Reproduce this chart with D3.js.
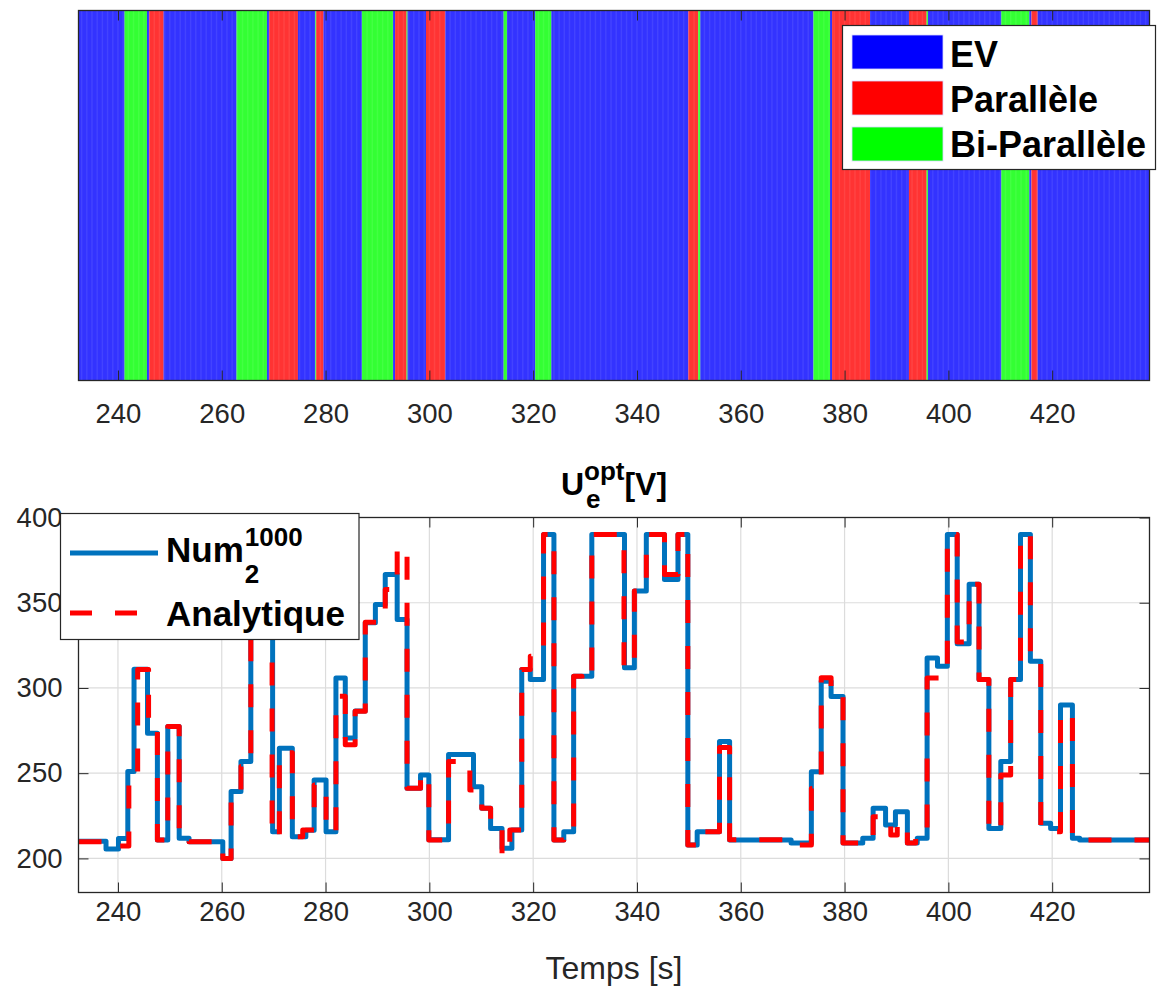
<!DOCTYPE html>
<html><head><meta charset="utf-8">
<script src="https://cdn.jsdelivr.net/npm/d3@7"></script>
<style>body{margin:0;background:#fff;} svg{display:block;font-family:"Liberation Sans",Arial,Helvetica,sans-serif;}</style>
</head><body><svg id="c" width="1157" height="992"></svg>
<script>
// ---------- data ----------
const modeNames = ["EV", "Parallèle", "Bi-Parallèle"];
const modeColors = ["#0000ff", "#ff0000", "#00ff00"];
// mode segments (start time, mode index: 0 EV, 1 Parallèle, 2 Bi-Parallèle)
const segStart = [232.4, 241.27, 245.59, 246.03, 248.79, 262.85, 268.71, 269.15, 274.68, 278.02, 278.2, 279.6, 287.0, 292.99, 293.4, 295.6, 295.8, 299.35, 303.07, 314.3, 314.95, 320.4, 323.5, 349.9, 351.8, 352.2, 374.0, 377.2, 377.6, 384.9, 392.4, 395.8, 396.07, 410.2, 415.6, 416.0, 417.2];
const segMode  = [0, 2, 0, 1, 0, 2, 0, 1, 0, 2, 1, 0, 2, 0, 1, 2, 0, 1, 0, 2, 0, 2, 0, 1, 2, 0, 2, 0, 1, 0, 1, 2, 0, 2, 0, 1, 0];
const tMin = 232.4, tMax = 438.75;

// U_e^opt step series (time of step, value after step)
const numT = [232.4, 237.7, 240.1, 241.9, 243.1, 245.7, 247.6, 249.6, 251.8, 253.7, 260.2, 261.8, 263.7, 265.6, 269.8, 271.1, 273.6, 276.2, 277.8, 280.1, 282.0, 283.8, 285.7, 287.65, 289.6, 291.5, 293.8, 295.7, 298.3, 299.9, 303.7, 308.5, 310.1, 311.8, 314.0, 315.9, 317.8, 319.45, 322.0, 324.0, 325.9, 327.8, 331.3, 337.6, 339.5, 341.8, 345.3, 347.9, 349.8, 351.6, 355.9, 357.85, 369.7, 373.6, 375.5, 377.4, 379.7, 383.5, 385.5, 387.9, 389.8, 392.1, 394.0, 395.9, 397.9, 399.8, 401.7, 404.0, 405.9, 407.8, 410.1, 412.0, 413.9, 415.8, 417.8, 419.7, 421.6, 423.9, 425.3];
const numV = [210, 205.5, 211.7, 251, 311, 273.5, 210.8, 277.4, 211.8, 209.8, 200, 239.2, 256.8, 390, 215.7, 264.7, 212.7, 216.5, 246, 215.7, 305.9, 270.6, 286.5, 338.2, 349, 366.6, 340.2, 241.2, 249, 211, 261, 242, 229.4, 217.6, 205.9, 216.7, 310.8, 305, 390, 210.8, 215.7, 306.9, 390, 311.8, 356.9, 390, 363.6, 390, 207.8, 215.7, 268.6, 210.8, 209, 250.8, 304, 295, 209, 211.8, 229.4, 219.6, 227.4, 209, 211.8, 317.6, 312.7, 390, 326, 360.8, 304.9, 217.6, 256.8, 304.9, 390, 315.6, 220.6, 217.6, 290, 211.8, 210.8];
const anaT = [232.4, 240.1, 242.1, 243.8, 245.9, 247.6, 249.6, 251.8, 253.7, 260.2, 261.8, 263.7, 265.6, 269.7, 271.1, 273.6, 275.6, 277.8, 280.1, 282.0, 283.8, 285.7, 287.65, 291.5, 293.8, 295.7, 298.3, 299.9, 303.7, 307.8, 310.1, 311.8, 314.0, 315.5, 317.8, 319.45, 322.0, 324.0, 325.9, 327.8, 329.4, 331.3, 337.5, 339.5, 341.8, 345.3, 347.9, 349.8, 351.6, 355.9, 357.85, 371.3, 373.6, 375.5, 377.4, 379.7, 383.0, 385.5, 388.9, 390.15, 392.1, 393.7, 395.9, 399.8, 401.7, 404.0, 405.9, 407.8, 410.1, 412.0, 413.9, 415.8, 417.8, 421.6, 423.9, 425.3];
const anaV = [209.8, 207.3, 248, 310.8, 274.5, 210.8, 277.4, 211.8, 209.8, 200, 239.2, 253.9, 390, 212.7, 262, 212.7, 216.7, 243.1, 215.7, 295.1, 266.7, 286.3, 338.5, 357.8, 382.4, 241.2, 249, 210.8, 256.8, 240.2, 229.4, 217.6, 201.9, 216.7, 310.8, 318.6, 390, 210.8, 215.7, 306.9, 304, 390, 311.8, 356.9, 390, 366.6, 390, 207.8, 215.7, 265, 211, 207.8, 241, 306, 295, 209, 211.8, 224.5, 213.7, 220.6, 209, 212.7, 305.9, 390, 327, 360.8, 304.9, 216.7, 249, 304.9, 390, 320.5, 215.7, 285, 211.8, 210.8];

const xTicks = [240, 260, 280, 300, 320, 340, 360, 380, 400, 420];
const yTicks = [200, 250, 300, 350, 400];
const seriesNames = ["Num", "Analytique"];

// ---------- layout ----------
const L = 78.5, R = 1149.5;
const top1 = 10.5, bot1 = 380.5;
const top2 = 517.5, bot2 = 892.5;
const axisCol = "#262626";
const tickFont = 27.5;

const svg = d3.select("#c");
const x = d3.scaleLinear().domain([tMin, tMax]).range([L, R]);
const y = d3.scaleLinear().domain([180, 400]).range([bot2, top2]);

// ===== top chart: mode stripes =====
const gTop = svg.append("g");
const segs = segStart.map((s, i) => ({s, e: i < segStart.length - 1 ? segStart[i + 1] : tMax, m: segMode[i]}));
gTop.selectAll("rect.seg").data(segs).join("rect")
  .attr("x", d => x(d.s)).attr("y", top1)
  .attr("width", d => x(d.e) - x(d.s)).attr("height", bot1 - top1)
  .attr("fill", d => modeColors[d.m]).attr("fill-opacity", 0.8);
// faint bar-edge texture
gTop.selectAll("line.tex").data(d3.range(Math.ceil(tMin), tMax, 1)).join("line")
  .attr("x1", d => x(d)).attr("x2", d => x(d)).attr("y1", top1).attr("y2", bot1)
  .attr("stroke", "#ffffff").attr("stroke-opacity", 0.08).attr("stroke-width", 1.5);

function styleAxis(g, labels) {
  g.select(".domain").remove();
  g.selectAll(".tick line").attr("stroke", axisCol).attr("stroke-width", 1);
  g.selectAll(".tick text").attr("fill", axisCol).attr("font-size", tickFont)
    .attr("font-family", '"Liberation Sans",Arial,sans-serif');
  if (!labels) g.selectAll(".tick text").remove();
}
// bottom ticks (inside) with labels
svg.append("g").attr("transform", `translate(0,${bot1})`)
  .call(d3.axisBottom(x).tickValues(xTicks).tickSizeInner(-10).tickSizeOuter(0).tickPadding(23))
  .call(g => styleAxis(g, true));
svg.append("g").attr("transform", `translate(0,${top1})`)
  .call(d3.axisTop(x).tickValues(xTicks).tickSizeInner(-10).tickSizeOuter(0))
  .call(g => styleAxis(g, false));
svg.append("rect").attr("x", L).attr("y", top1).attr("width", R - L).attr("height", bot1 - top1)
  .attr("fill", "none").attr("stroke", axisCol).attr("stroke-width", 1.3);

// top legend
const lg1 = svg.append("g");
lg1.append("rect").attr("x", 842.5).attr("y", 25.5).attr("width", 313).attr("height", 144)
  .attr("fill", "#fff").attr("stroke", axisCol).attr("stroke-width", 1.2);
modeNames.forEach((n, i) => {
  lg1.append("rect").attr("x", 852).attr("y", 35 + i * 46).attr("width", 91).attr("height", 34)
    .attr("fill", modeColors[i]).attr("stroke", "#d8d8ff").attr("stroke-width", 0.8);
  lg1.append("text").attr("x", 950).attr("y", 66.5 + i * 45).text(n)
    .attr("font-size", 36).attr("font-weight", "bold").attr("fill", "#000");
});

// ===== bottom chart =====
// grid
svg.append("g").selectAll("line.gx").data(xTicks).join("line")
  .attr("x1", d => x(d)).attr("x2", d => x(d)).attr("y1", top2).attr("y2", bot2)
  .attr("stroke", "#dcdcdc").attr("stroke-width", 1.2);
svg.append("g").selectAll("line.gy").data(yTicks).join("line")
  .attr("x1", L).attr("x2", R).attr("y1", d => y(d)).attr("y2", d => y(d))
  .attr("stroke", "#dcdcdc").attr("stroke-width", 1.2);

svg.append("defs").append("clipPath").attr("id", "clip2")
  .append("rect").attr("x", L).attr("y", top2).attr("width", R - L).attr("height", bot2 - top2);

const line = d3.line().x(d => x(d[0])).y(d => y(d[1])).curve(d3.curveStepAfter);
function pts(T, V) {
  const p = T.map((t, i) => [t, V[i]]);
  p.push([tMax, V[V.length - 1]]);
  return p;
}
const gl = svg.append("g").attr("clip-path", "url(#clip2)");
gl.append("path").datum(pts(numT, numV)).attr("d", line)
  .attr("fill", "none").attr("stroke", "#0072BD").attr("stroke-width", 5).attr("stroke-linejoin", "round");
gl.append("path").datum(pts(anaT, anaV)).attr("d", line)
  .attr("fill", "none").attr("stroke", "#ff0000").attr("stroke-width", 5)
  .attr("stroke-dasharray", "23,23").attr("stroke-linejoin", "round");

// axes bottom chart
svg.append("g").attr("transform", `translate(0,${bot2})`)
  .call(d3.axisBottom(x).tickValues(xTicks).tickSizeInner(-10).tickSizeOuter(0).tickPadding(9))
  .call(g => styleAxis(g, true));
svg.append("g").attr("transform", `translate(0,${top2})`)
  .call(d3.axisTop(x).tickValues(xTicks).tickSizeInner(-10).tickSizeOuter(0))
  .call(g => styleAxis(g, false));
svg.append("g").attr("transform", `translate(${L},0)`)
  .call(d3.axisLeft(y).tickValues(yTicks).tickSizeInner(-10).tickSizeOuter(0).tickPadding(16))
  .call(g => styleAxis(g, true));
svg.append("g").attr("transform", `translate(${R},0)`)
  .call(d3.axisRight(y).tickValues(yTicks).tickSizeInner(-10).tickSizeOuter(0))
  .call(g => styleAxis(g, false));
svg.append("rect").attr("x", L).attr("y", top2).attr("width", R - L).attr("height", bot2 - top2)
  .attr("fill", "none").attr("stroke", axisCol).attr("stroke-width", 1.3);

// title U_e^opt[V]
const tg = svg.append("g").attr("font-weight", "bold").attr("fill", "#000");
const tU = tg.append("text").attr("y", 495).attr("font-size", 32).text("U");
const tSup = tg.append("text").attr("y", 480).attr("font-size", 26).text("opt");
const tSub = tg.append("text").attr("y", 508).attr("font-size", 26).text("e");
const tV = tg.append("text").attr("y", 495).attr("font-size", 32).text("[V]");
{
  const wU = tU.node().getComputedTextLength();
  const wS = Math.max(tSup.node().getComputedTextLength(), tSub.node().getComputedTextLength());
  const wV = tV.node().getComputedTextLength();
  const total = wU + wS + wV;
  const x0 = (L + R) / 2 - total / 2;
  tU.attr("x", x0);
  tSup.attr("x", x0 + wU);
  tSub.attr("x", x0 + wU + 2);
  tV.attr("x", x0 + wU + wS);
}

// x label
svg.append("text").attr("x", (L + R) / 2).attr("y", 979).attr("text-anchor", "middle")
  .attr("font-size", 32).attr("fill", axisCol).text("Temps [s]");

// bottom legend
const lg2 = svg.append("g");
lg2.append("rect").attr("x", 60.5).attr("y", 513.5).attr("width", 298.5).attr("height", 126)
  .attr("fill", "#fff").attr("stroke", axisCol).attr("stroke-width", 1.2);
lg2.append("line").attr("x1", 70).attr("x2", 158).attr("y1", 553).attr("y2", 553)
  .attr("stroke", "#0072BD").attr("stroke-width", 5);
lg2.append("line").attr("x1", 70).attr("x2", 160).attr("y1", 613).attr("y2", 613)
  .attr("stroke", "#ff0000").attr("stroke-width", 5).attr("stroke-dasharray", "22,23");
const tNum = lg2.append("text").attr("x", 166).attr("y", 562).attr("font-size", 35)
  .attr("font-weight", "bold").text(seriesNames[0]);
const wNum = tNum.node().getComputedTextLength();
lg2.append("text").attr("x", 166 + wNum + 1).attr("y", 546).attr("font-size", 26)
  .attr("font-weight", "bold").text("1000");
lg2.append("text").attr("x", 166 + wNum + 1).attr("y", 583).attr("font-size", 26)
  .attr("font-weight", "bold").text("2");
lg2.append("text").attr("x", 166).attr("y", 626).attr("font-size", 35)
  .attr("font-weight", "bold").text(seriesNames[1]);
</script>
</body></html>
